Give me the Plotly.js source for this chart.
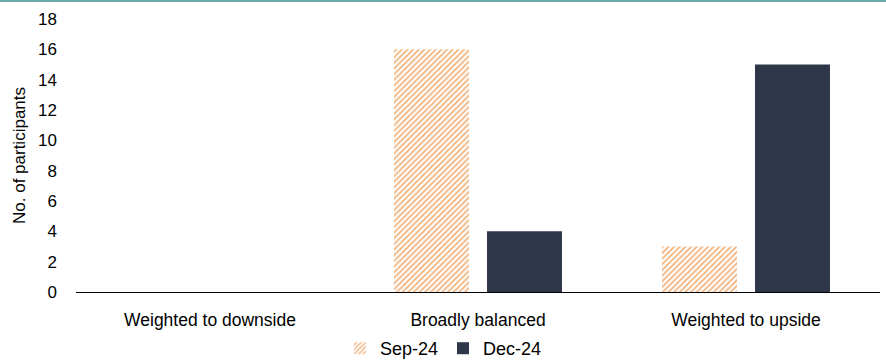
<!DOCTYPE html>
<html>
<head>
<meta charset="utf-8">
<script src="https://cdn.plot.ly/plotly-3.0.1.min.js"></script>
<style>
  html, body { margin: 0; padding: 0; background: #fff; overflow: hidden; }
  #wrap { position: relative; width: 886px; height: 362px; overflow: hidden; }
  #topline { position: absolute; left: 0; top: 0; height: 2px; width: 886px; background: #6FA9AB; z-index: 5; }
  #chart { width: 886px; height: 367px; }
</style>
</head>
<body>
<div id="wrap">
  <div id="chart"></div>
  <div id="topline"></div>
</div>
<script>
const categories = ['Weighted to downside', 'Broadly balanced', 'Weighted to upside'];
const sep24 = [0, 16, 3];
const dec24 = [0, 4, 15];
const yTicks = [0, 2, 4, 6, 8, 10, 12, 14, 16, 18];

const FONT = '"Liberation Sans", Arial, sans-serif';

const traces = [
  {
    type: 'bar', name: 'Sep-24', x: categories, y: sep24,
    marker: {
      color: '#FFFFFF',
      line: { width: 0 },
      pattern: { shape: '/', fgcolor: '#F2B27C', bgcolor: '#FFFFFF', size: 4, solidity: 0.45 }
    }
  },
  {
    type: 'bar', name: 'Dec-24', x: categories, y: dec24,
    marker: { color: '#2E3649', line: { width: 0 } }
  }
];

// the figure runs slightly past its frame so the legend sits low under the axis
const layout = {
  width: 886, height: 367,
  margin: { l: 76, r: 6, t: 19, b: 75 },
  paper_bgcolor: '#FFFFFF', plot_bgcolor: '#FFFFFF',
  font: { family: FONT, color: '#000000', size: 17 },
  barmode: 'group', bargap: 0.306, bargroupgap: 0.194,
  showlegend: true,
  legend: {
    orientation: 'h', x: 0.457, xanchor: 'center',
    yref: 'container', y: 0, yanchor: 'bottom',
    bgcolor: 'rgba(0,0,0,0)',
    font: { size: 18 }, itemwidth: 30, tracegroupgap: 0
  },
  xaxis: {
    showgrid: false, showline: true, linecolor: '#000000', linewidth: 1,
    ticks: '', tickfont: { size: 17.5 }, zeroline: false, ticklabelstandoff: 12
  },
  yaxis: {
    range: [0, 18], tickvals: yTicks, ticktext: yTicks.map(String),
    showgrid: false, showline: false, zeroline: false, ticks: '',
    tickfont: { size: 17 }, ticklabelstandoff: 18,
    title: { text: 'No. of participants', font: { size: 17 }, standoff: 8 }
  }
};

Plotly.newPlot('chart', traces, layout, { displayModeBar: false, staticPlot: true });
</script>
</body>
</html>
